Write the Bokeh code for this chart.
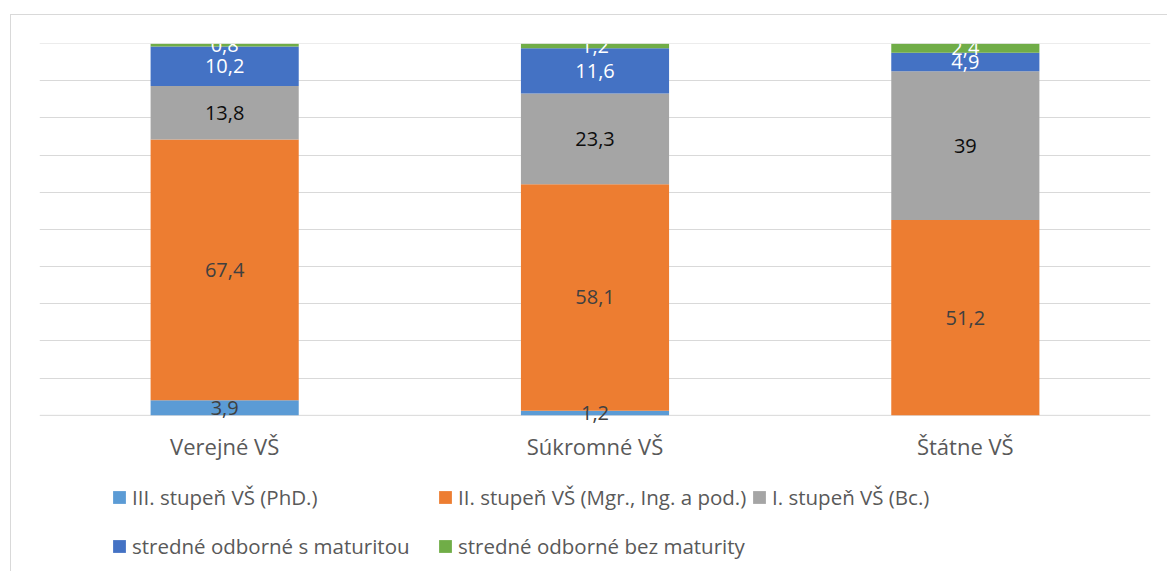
import numpy as np
from bokeh.plotting import figure
from bokeh.layouts import column
from bokeh.models import ColumnDataSource, Legend, LegendItem, FactorRange, FixedTicker, Span
from bokeh.embed import file_html
from bokeh.resources import INLINE
from bokeh.core.properties import value

categories = ["Verejné VŠ", "Súkromné VŠ", "Štátne VŠ"]
series_names = [
    "III. stupeň VŠ (PhD.)",
    "II. stupeň VŠ (Mgr., Ing. a pod.)",
    "I. stupeň VŠ (Bc.)",
    "stredné odborné s maturitou",
    "stredné odborné bez maturity",
]
phd = [3.9, 1.2, 0.0]
mgr = [67.4, 58.1, 51.2]
bc = [13.8, 23.3, 39.0]
s_maturitou = [10.2, 11.6, 4.9]
bez_maturity = [0.8, 1.2, 2.4]

colors = ["#5B9BD5", "#ED7D31", "#A5A5A5", "#4472C4", "#70AD47"]
label_colors = ["#404040", "#404040", "#0D0D0D", "#FFFFFF", "#FFFFFF"]

FONT = "Open Sans"

series = [phd, mgr, bc, s_maturitou, bez_maturity]
totals = np.sum(np.array(series), axis=0)

# ---- main chart ----
p = figure(
    x_range=FactorRange(*categories, range_padding=0),
    y_range=(-3, 100),
    frame_width=1111,
    frame_height=383,
    min_border_left=28,
    min_border_right=17,
    min_border_top=28,
    min_border_bottom=49,
    output_backend="svg",
    toolbar_location=None,
)
p.outline_line_color = None
p.background_fill_color = "white"

labels = []
bottom = np.zeros(len(categories))
for name, vals, col, lcol in zip(series_names, series, colors, label_colors):
    vals = np.array(vals, dtype=float)
    pct = vals / totals * 100.0
    top = bottom + pct
    src = ColumnDataSource(dict(x=categories, bottom=bottom, top=top))
    p.vbar(x="x", bottom="bottom", top="top", width=0.4, source=src,
           fill_color=col, line_color=None)
    mids = (bottom + top) / 2.0
    xs, ys, texts = [], [], []
    for c, v, m in zip(categories, vals, mids):
        if v > 0:
            texts.append(("%g" % v).replace(".", ","))
            xs.append(c)
            ys.append(m)
    labels.append((dict(x=xs, y=ys, t=texts), lcol))
    bottom = top

for data, lcol in labels:
    p.text(x="x", y="y", text="t", source=ColumnDataSource(data), text_align="center",
           text_baseline="middle", text_color=lcol,
           text_font=value(FONT), text_font_size="20px")

p.yaxis.visible = False
p.ygrid.ticker = FixedTicker(ticks=list(range(10, 101, 10)))
p.ygrid.grid_line_color = "#D9D9D9"
p.ygrid.grid_line_width = 1
p.xgrid.grid_line_color = None
p.add_layout(Span(location=100, dimension="width", line_color="#D9D9D9", line_width=1))
p.add_layout(Span(location=0, dimension="width", line_color="#D9D9D9", line_width=1,
                  level="underlay"))

p.xaxis.axis_line_color = None
p.xaxis.major_tick_line_color = None
p.xaxis.minor_tick_line_color = None
p.xaxis.major_label_text_font = FONT
p.xaxis.major_label_text_font_size = "22px"
p.xaxis.major_label_text_color = "#595959"
p.xaxis.major_label_standoff = -2

# ---- legend strip ----
p2 = figure(
    width=1156, height=96,
    x_range=(0, 1), y_range=(0, 1),
    min_border=0,
    x_axis_location=None, y_axis_location=None,
    output_backend="svg",
    toolbar_location=None,
)
p2.grid.visible = False
p2.outline_line_color = None
p2.background_fill_color = "white"

legend_renderers = []
for col in colors:
    # zero-size swatch carriers: they only supply the legend glyph colour
    legend_renderers.append(
        p2.rect(x=[0], y=[0], width=0, height=0, fill_color=col, line_color=None)
    )


def make_legend(idx, loc):
    lg = Legend(items=[LegendItem(label=series_names[i], renderers=[legend_renderers[i]]) for i in idx],
                orientation="vertical", location=loc)
    lg.label_text_font = FONT
    lg.label_text_font_size = "20.5px"
    lg.label_text_color = "#595959"
    lg.glyph_width = 16
    lg.glyph_height = 16
    lg.label_standoff = 5
    lg.label_height = 30
    lg.spacing = 19
    lg.border_line_color = None
    lg.background_fill_alpha = 0
    lg.padding = 0
    lg.margin = 0
    return lg


p2.add_layout(make_legend([0, 3], (72, 10)), "center")
p2.add_layout(make_legend([1, 4], (398, 10)), "center")
p2.add_layout(make_legend([2], (712, 59)), "center")

layout = column(p, p2, spacing=0)
layout.styles = {"border-left": "1px solid #D9D9D9", "border-top": "1px solid #D9D9D9",
                 "margin-left": "10px", "margin-top": "14px"}

open("out.html", "w").write(file_html(layout, INLINE))
